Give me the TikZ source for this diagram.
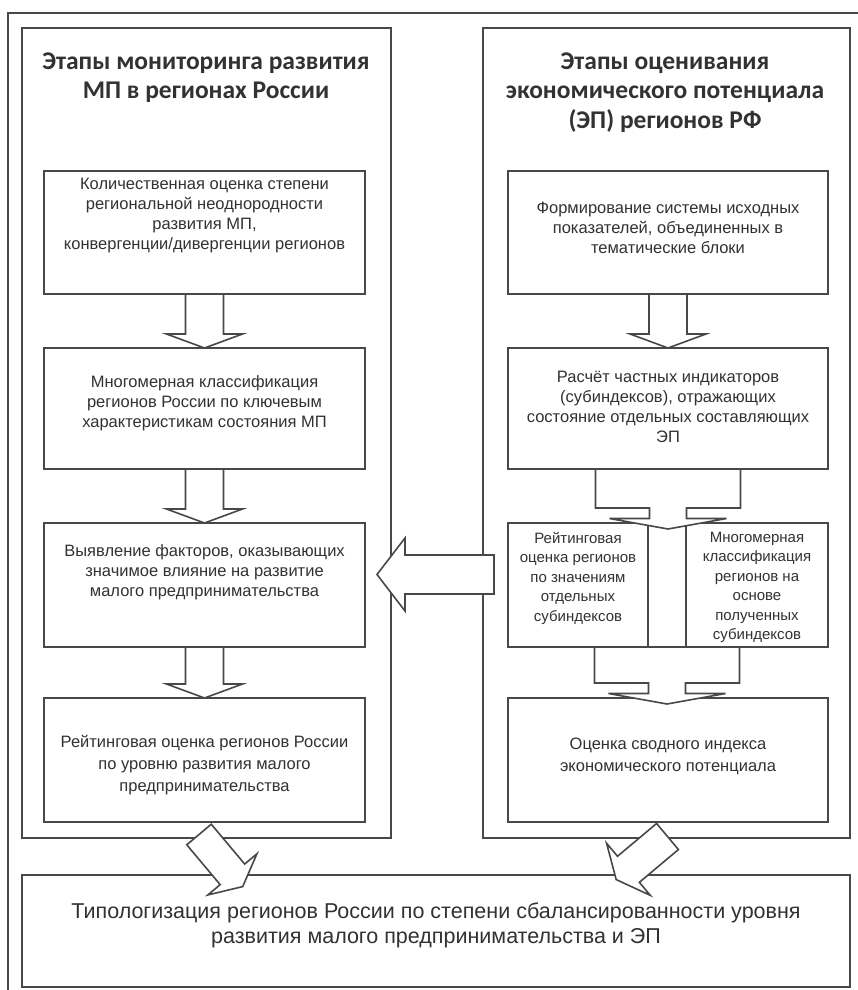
\documentclass[tikz,border=0pt]{standalone}
\usepackage{fontspec}
\setmainfont{Liberation Sans}
\newfontfamily\titlefont{Carlito}
\usetikzlibrary{calc}
\definecolor{lc}{RGB}{72,72,72}
\definecolor{tc}{RGB}{50,50,50}
\tikzset{
 box/.style={draw=lc, line width=1.6pt, fill=white, anchor=north west, inner sep=0pt, outer sep=0pt},
 blk/.style={draw=lc, line width=1.6pt, fill=white, line join=miter},
 txt/.style={text=tc, align=center, font=\fontsize{16.5}{20}\selectfont, inner sep=0pt},
 txtw/.style={text=tc, align=center, font=\fontsize{16.5}{22}\selectfont, inner sep=0pt},
 stxt/.style={text=tc, align=center, font=\fontsize{15}{19.5}\selectfont, inner sep=0pt},
 bigtxt/.style={text=tc, align=center, font=\fontsize{21.5}{25}\selectfont, inner sep=0pt},
 ttl/.style={text=tc, align=center, font=\titlefont\bfseries\fontsize{25.5}{29.5}\selectfont, inner sep=0pt},
}
\newcommand{\blkdown}[2]{%
 \draw[blk] let \p1=(#1.south), \p2=(#2.north) in
 (\x1-19pt,\y1) -- (\x1-19pt,\y2+14pt) -- (\x1-38pt,\y2+14pt) -- (\x1,\y2) --
 (\x1+38pt,\y2+14pt) -- (\x1+19pt,\y2+14pt) -- (\x1+19pt,\y1) -- cycle;}
\newcommand{\splitdown}[2]{%
 \draw[blk] let \p1=(#1.south), \p2=(#2.north) in
 (\x1-72.5pt,\y1) -- (\x1-72.5pt,\y2+15pt) -- (\x1-18.5pt,\y2+15pt) --
 (\x1-18.5pt,\y2+4.5pt) -- (\x1-58.5pt,\y2+4.5pt) -- (\x1,\y2-6pt) --
 (\x1+58.5pt,\y2+4.5pt) -- (\x1+18.5pt,\y2+4.5pt) -- (\x1+18.5pt,\y2+15pt) --
 (\x1+72.5pt,\y2+15pt) -- (\x1+72.5pt,\y1) -- cycle;}
\begin{document}
\begin{tikzpicture}[x=1pt,y=-1pt]
\useasboundingbox (0,0) rectangle (857,990);
\fill[white] (0,0) rectangle (857,990);
% frames
\node[box, minimum width=856pt, minimum height=985pt] (outer) at (8,13) {};
\node[box, minimum width=369pt, minimum height=810pt] (LP) at (22,28) {};
\node[box, minimum width=367pt, minimum height=810pt] (RP) at (483,28) {};
\node[box, minimum width=828pt, minimum height=112pt] (B) at (22,875) {};
% titles
\node[ttl] (LT) at (206,77.5) {Этапы мониторинга развития\\МП в регионах России};
\node[ttl] (RT) at (665,92.5) {Этапы оценивания\\экономического потенциала\\(ЭП) регионов РФ};
% left column
\node[box, minimum width=321pt, minimum height=123pt] (L1) at (44,171) {};
\node[box, minimum width=321pt, minimum height=121pt] (L2) at (44,348) {};
\node[box, minimum width=321pt, minimum height=124pt] (L3) at (44,523) {};
\node[box, minimum width=321pt, minimum height=124pt] (L4) at (44,698) {};
% right column
\node[box, minimum width=320pt, minimum height=123pt] (R1) at (508,171) {};
\node[box, minimum width=320pt, minimum height=121pt] (R2) at (508,348) {};
\node[box, minimum width=140pt, minimum height=124pt] (S1) at (508,523) {};
\node[box, minimum width=38pt, minimum height=124pt] (S0) at (648,523) {};
\node[box, minimum width=142pt, minimum height=124pt] (S2) at (686,523) {};
\node[box, minimum width=320pt, minimum height=124pt] (R3) at (508,698) {};
% texts
\node[txt] (tL1) at ($(L1.north)+(0,45)$) {Количественная оценка степени\\региональной неоднородности\\развития МП,\\конвергенции/дивергенции регионов};
\node[txt] (tL2) at ($(L2.north)+(0,55)$) {Многомерная классификация\\регионов России по ключевым\\характеристикам состояния МП};
\node[txt] (tL3) at ($(L3.north)+(0,49)$) {Выявление факторов, оказывающих\\значимое влияние на развитие\\малого предпринимательства};
\node[txtw] (tL4) at ($(L4.north)+(0,67)$) {Рейтинговая оценка регионов России\\по уровню развития малого\\предпринимательства};
\node[txt] (tR1) at ($(R1.north)+(0,57)$) {Формирование системы исходных\\показателей, объединенных в\\тематические блоки};
\node[txt] (tR2) at ($(R2.north)+(0,59)$) {Расчёт частных индикаторов\\(субиндексов), отражающих\\состояние отдельных составляющих\\ЭП};
\node[stxt] (tS1) at ($(S1.north)+(0,55)$) {Рейтинговая\\оценка регионов\\по значениям\\отдельных\\субиндексов};
\node[stxt] (tS2) at ($(S2.north)+(0,64.5)$) {Многомерная\\классификация\\регионов на\\основе\\полученных\\субиндексов};
\node[txtw] (tR3) at ($(R3.north)+(0,58)$) {Оценка сводного индекса\\экономического потенциала};
\node[bigtxt] (tB) at ($(B.north)+(0,50)$) {Типологизация регионов России по степени сбалансированности уровня\\развития малого предпринимательства и ЭП};
% block arrows
\blkdown{L1}{L2}
\blkdown{L2}{L3}
\blkdown{L3}{L4}
\blkdown{R1}{R2}
\splitdown{R2}{S0}
\splitdown{S0}{R3}
\coordinate (la) at (494,574.5);
\coordinate (lb) at (377,574.5);
\draw[blk] ($(la)+(0,-19.5)$) -- ($(lb)+(28,-19.5)$) -- ($(lb)+(28,-36.5)$) -- (lb)
 -- ($(lb)+(28,36.5)$) -- ($(lb)+(28,19.5)$) -- ($(la)+(0,19.5)$) -- cycle;
\coordinate (ba1) at (199,834.5);
\coordinate (ba2) at (667.5,836.5);
\begin{scope}[shift={(ba1)}, rotate=-50]
\draw[blk] (0,-16) -- (52,-16) -- (52,-32) -- (68,0) -- (52,32) -- (52,16) -- (0,16) -- cycle;
\end{scope}
\begin{scope}[shift={(ba2)}, rotate=-140]
\draw[blk] (0,-17) -- (51,-17) -- (51,-34) -- (67,0) -- (51,34) -- (51,17) -- (0,17) -- cycle;
\end{scope}
\end{tikzpicture}
\end{document}
